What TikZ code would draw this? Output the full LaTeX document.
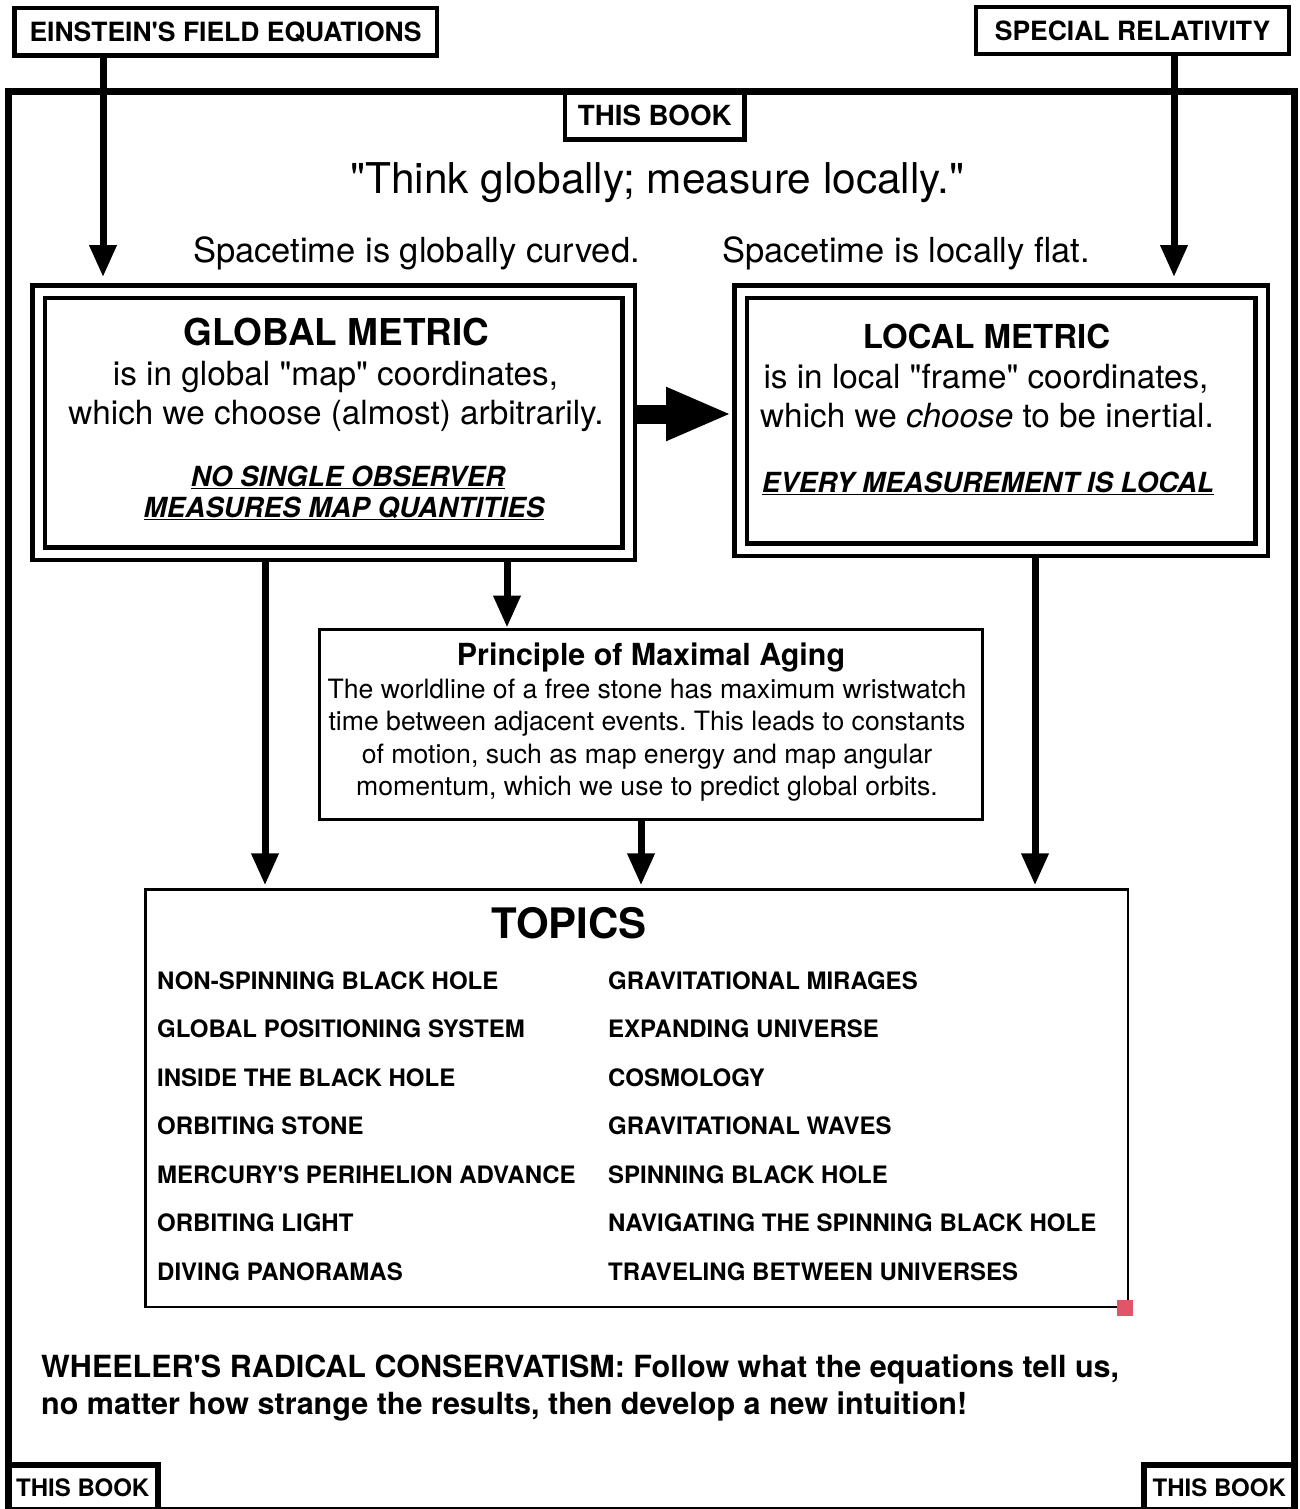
\documentclass[tikz,border=0pt]{standalone}
\usepackage{fontspec}
\setmainfont{TeX Gyre Heros}[Ligatures=TeXOff]
\usepackage{tikz}
\usetikzlibrary{arrows.meta}
\definecolor{handle}{RGB}{226,84,104}
\frenchspacing

\begin{document}
\begin{tikzpicture}[x=1pt, y=-1pt, line join=miter,
  srcbox/.style={draw, line width=4.5pt, inner sep=0pt, font=\fontsize{26.5}{30}\selectfont\bfseries},
  bookbox/.style={draw, line width=6pt, inner sep=0pt, font=\fontsize{24}{28}\selectfont\bfseries},
  metricbox/.style={draw, line width=4.5pt, double, double distance=8pt, outer sep=8.5pt, inner sep=0pt},
  plainbox/.style={draw, line width=3pt, inner sep=0pt},
  txt/.style={inner sep=0pt, anchor=base},
  arr/.style={line width=7pt, -{Triangle[length=32pt,width=26pt]}},
  bigarr/.style={line width=19pt, -{Triangle[length=66pt,width=49pt]}}]

\useasboundingbox (0,0) rectangle (1299,1509);
\clip (0,0) rectangle (1299,1509);

\draw[line width=7pt] (8,1510.5) rectangle (1294.5,91.5);

\node[srcbox, minimum width=422.5pt, minimum height=47.5pt] (einstein) at (225.5,32) {EINSTEIN'S FIELD EQUATIONS};
\node[srcbox, minimum width=313pt, minimum height=47pt] (special) at (1132.5,30.5) {SPECIAL RELATIVITY};
\node[bookbox, line width=4.5pt, font=\fontsize{27.7}{30}\selectfont\bfseries, minimum width=179.5pt, minimum height=48pt] (booktop) at (654.75,115.5) {THIS BOOK};
\node[bookbox, minimum width=149.5pt, minimum height=45.5pt] (bookleft) at (82.75,1487.75) {THIS BOOK};
\node[bookbox, minimum width=150.5pt, minimum height=45.5pt] (bookright) at (1219.25,1487.75) {THIS BOOK};

\node[txt, font=\fontsize{42.4}{46}\selectfont] (motto) at (657.5,193) {"Think globally; measure locally."};
\node[txt, font=\fontsize{34.5}{38}\selectfont] (curved) at (416.5,262) {Spacetime is globally curved.};
\node[txt, font=\fontsize{34.5}{38}\selectfont] (flat) at (906,262) {Spacetime is locally flat.};

\node[metricbox, minimum width=590pt, minimum height=262pt] (global) at (333.5,422.5) {};
\node[txt, font=\fontsize{37}{40}\selectfont\bfseries] (gtitle) at (336.5,345) {GLOBAL METRIC};
\node[txt, font=\fontsize{33.3}{36}\selectfont] (gline1) at (335.5,385) {is in global "map" coordinates,};
\node[txt, font=\fontsize{33.3}{36}\selectfont] (gline2) at (336,424) {which we choose (almost) arbitrarily.};
\node[txt, font=\fontsize{27.7}{30}\selectfont\bfseries\itshape] (gnote1) at (348,486) {\underline{NO SINGLE OBSERVER}};
\node[txt, font=\fontsize{27.7}{30}\selectfont\bfseries\itshape] (gnote2) at (344,517) {\underline{MEASURES MAP QUANTITIES}};

\node[metricbox, minimum width=521pt, minimum height=258pt] (local) at (1001,420.5) {};
\node[txt, font=\fontsize{33}{36}\selectfont\bfseries] (ltitle) at (986.5,348) {LOCAL METRIC};
\node[txt, font=\fontsize{33.3}{36}\selectfont] (lline1) at (986,388) {is in local "frame" coordinates,};
\node[txt, font=\fontsize{33.3}{36}\selectfont] (lline2) at (987,427) {which we \textit{choose} to be inertial.};
\node[txt, font=\fontsize{27.7}{30}\selectfont\bfseries\itshape] (lnote) at (988,492) {\underline{EVERY MEASUREMENT IS LOCAL}};

\node[plainbox, minimum width=663.5pt, minimum height=190pt] (principle) at (650.75,724) {};
\node[txt, font=\fontsize{30.4}{33}\selectfont\bfseries] (ptitle) at (651,665) {Principle of Maximal Aging};
\foreach \ln [count=\i] in {{The worldline of a free stone has maximum wristwatch},
  {time between adjacent events. This leads to constants},
  {of motion, such as map energy and map angular},
  {momentum, which we use to predict global orbits.}}
  \node[txt, font=\fontsize{26.6}{30}\selectfont] (pline\i) at (647,{665.5+32.5*\i}) {\ln};

\node[plainbox, line width=2.5pt, minimum width=982.5pt, minimum height=417.5pt] (topics) at (636.75,1098.25) {};
\node[txt, font=\fontsize{42}{46}\selectfont\bfseries] (ttitle) at (569,938) {TOPICS};
\foreach \lft/\rgt [count=\i] in {NON-SPINNING BLACK HOLE/GRAVITATIONAL MIRAGES,
  GLOBAL POSITIONING SYSTEM/EXPANDING UNIVERSE,
  INSIDE THE BLACK HOLE/COSMOLOGY,
  ORBITING STONE/GRAVITATIONAL WAVES,
  MERCURY'S PERIHELION ADVANCE/SPINNING BLACK HOLE,
  ORBITING LIGHT/NAVIGATING THE SPINNING BLACK HOLE,
  DIVING PANORAMAS/TRAVELING BETWEEN UNIVERSES}
{
  \node[txt, anchor=base west, font=\fontsize{24}{28}\selectfont\bfseries] (topicL\i) at (157,{940.5+48.5*\i}) {\lft};
  \node[txt, anchor=base west, font=\fontsize{24}{28}\selectfont\bfseries] (topicR\i) at (608,{940.5+48.5*\i}) {\rgt};
}
\fill[handle] (1117,1300) rectangle (1133,1316);

\node[txt, anchor=base west, font=\fontsize{30.5}{34}\selectfont\bfseries] (wheeler1) at (41,1377) {WHEELER'S RADICAL CONSERVATISM: Follow what the equations tell us,};
\node[txt, anchor=base west, font=\fontsize{30.5}{34}\selectfont\bfseries] (wheeler2) at (41,1414) {no matter how strange the results, then develop a new intuition!};

\coordinate (laneA) at (103,0);
\coordinate (laneB) at (1174,0);
\coordinate (laneC) at (265,0);
\coordinate (laneD) at (507,0);
\coordinate (laneE) at (641,0);
\coordinate (laneF) at (1035,0);
\coordinate (laneG) at (0,414);

\draw[arr, shorten >=6pt] (einstein.south -| laneA) -- (global.north -| laneA);
\draw[arr, shorten >=6pt] (special.south -| laneB) -- (local.north -| laneB);
\draw[arr, shorten >=3pt] (global.south -| laneC) -- (topics.north -| laneC);
\draw[arr] (global.south -| laneD) -- (principle.north -| laneD);
\draw[arr, shorten >=3pt] (principle.south -| laneE) -- (topics.north -| laneE);
\draw[arr, shorten >=3pt] (local.south -| laneF) -- (topics.north -| laneF);
\draw[bigarr] (global.east |- laneG) -- (local.west |- laneG);

\end{tikzpicture}
\end{document}
